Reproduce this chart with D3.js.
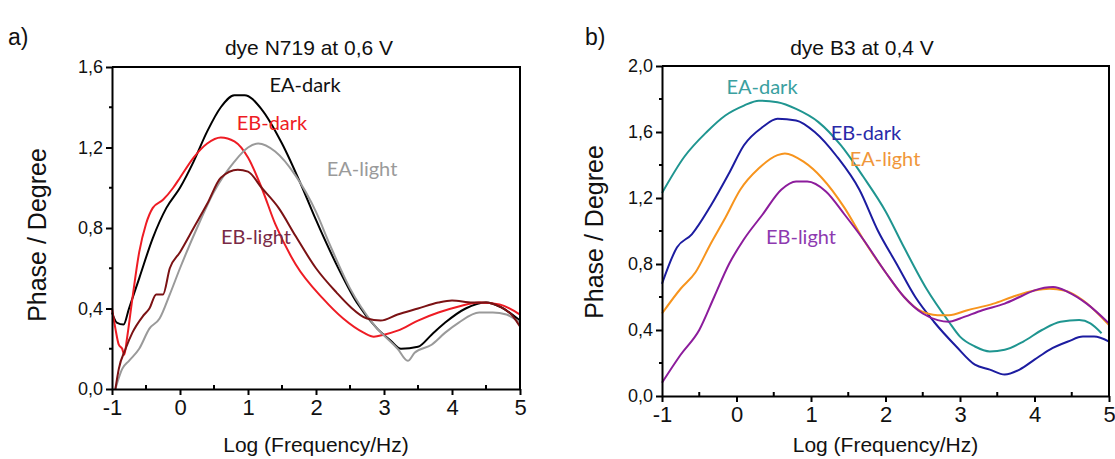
<!DOCTYPE html>
<html><head><meta charset="utf-8">
<script src="https://cdn.jsdelivr.net/npm/d3@7"></script>
<style>body{margin:0;background:#fff}svg{display:block}</style>
</head><body>
<svg id="chart" width="1115" height="459"></svg>
<script>
// ---------- DATA ----------
const xTicks = [-1, 0, 1, 2, 3, 4, 5];
const xTitle = "Log (Frequency/Hz)";
const yTitle = "Phase / Degree";

// Panel a) dye N719 at 0,6 V
const aTitle = "dye N719 at 0,6 V";
const aYTicks = [0, 0.4, 0.8, 1.2, 1.6];
const aEAdark = [[-1,0.38],[-0.93,0.33],[-0.83,0.32],[-0.75,0.4],[-0.6,0.55],[-0.4,0.75],[-0.2,0.9],[0,1.0],[0.2,1.13],[0.4,1.28],[0.6,1.4],[0.8,1.46],[0.95,1.46],[1.2,1.39],[1.5,1.22],[1.8,1.0],[2.0,0.84],[2.3,0.62],[2.6,0.43],[2.9,0.3],[3.1,0.24],[3.25,0.2],[3.5,0.21],[3.7,0.27],[3.9,0.33],[4.2,0.4],[4.5,0.43],[4.7,0.41],[5.0,0.34]];
const aEBdark = [[-1,0.4],[-0.95,0.3],[-0.9,0.22],[-0.85,0.2],[-0.82,0.17],[-0.78,0.25],[-0.7,0.45],[-0.6,0.68],[-0.5,0.82],[-0.4,0.9],[-0.25,0.94],[-0.1,1.0],[0,1.05],[0.2,1.15],[0.4,1.22],[0.6,1.25],[0.8,1.23],[1.0,1.15],[1.2,1.0],[1.4,0.82],[1.7,0.62],[2.1,0.45],[2.4,0.35],[2.7,0.28],[2.85,0.26],[3.0,0.27],[3.2,0.29],[3.5,0.34],[3.8,0.38],[4.1,0.41],[4.4,0.43],[4.7,0.42],[5.0,0.37]];
const aEAlight = [[-0.95,0.0],[-0.85,0.1],[-0.75,0.14],[-0.6,0.2],[-0.45,0.3],[-0.3,0.35],[-0.15,0.47],[0,0.6],[0.25,0.8],[0.5,0.98],[0.8,1.13],[1.0,1.2],[1.15,1.22],[1.4,1.18],[1.7,1.06],[2.0,0.88],[2.2,0.72],[2.5,0.5],[2.85,0.32],[3.2,0.2],[3.35,0.14],[3.45,0.18],[3.7,0.22],[3.9,0.28],[4.1,0.33],[4.4,0.38],[4.6,0.38],[4.8,0.37],[5.0,0.33]];
const aEBlight = [[-0.95,0.0],[-0.9,0.1],[-0.8,0.2],[-0.7,0.28],[-0.55,0.36],[-0.45,0.4],[-0.35,0.47],[-0.25,0.47],[-0.15,0.6],[0,0.68],[0.2,0.8],[0.4,0.92],[0.6,1.05],[0.85,1.09],[1.0,1.08],[1.2,1.0],[1.45,0.9],[1.7,0.76],[2.0,0.6],[2.3,0.48],[2.5,0.41],[2.75,0.35],[2.95,0.34],[3.2,0.37],[3.5,0.4],[3.8,0.43],[4.0,0.44],[4.3,0.43],[4.5,0.43],[4.7,0.41],[4.9,0.36],[5.0,0.31]];

// Panel b) dye B3 at 0,4 V
const bTitle = "dye B3 at 0,4 V";
const bYTicks = [0, 0.4, 0.8, 1.2, 1.6, 2.0];
const bEAdark = [[-1,1.23],[-0.7,1.45],[-0.4,1.6],[-0.15,1.7],[0.1,1.76],[0.3,1.79],[0.55,1.78],[0.8,1.74],[1.1,1.66],[1.4,1.52],[1.7,1.33],[2.0,1.12],[2.25,0.9],[2.55,0.65],[2.85,0.45],[3.0,0.36],[3.2,0.3],[3.4,0.27],[3.6,0.28],[3.85,0.33],[4.1,0.4],[4.35,0.45],[4.6,0.46],[4.75,0.44],[4.9,0.38]];
const bEBdark = [[-1,0.68],[-0.8,0.9],[-0.6,0.98],[-0.35,1.15],[-0.1,1.35],[0.1,1.52],[0.35,1.63],[0.55,1.68],[0.8,1.67],[1.05,1.6],[1.35,1.45],[1.65,1.25],[1.9,1.0],[2.15,0.8],[2.4,0.6],[2.65,0.45],[2.95,0.3],[3.2,0.19],[3.4,0.16],[3.6,0.13],[3.8,0.16],[4.0,0.22],[4.2,0.28],[4.45,0.33],[4.65,0.36],[4.8,0.36],[5.0,0.33]];
const bEAlight = [[-1,0.5],[-0.75,0.65],[-0.55,0.75],[-0.35,0.92],[-0.15,1.08],[0.05,1.25],[0.3,1.38],[0.55,1.46],[0.65,1.47],[0.9,1.42],[1.15,1.32],[1.45,1.14],[1.7,0.95],[2.0,0.75],[2.25,0.6],[2.45,0.52],[2.7,0.49],[2.85,0.49],[3.1,0.52],[3.45,0.56],[3.7,0.6],[4.0,0.64],[4.2,0.65],[4.4,0.64],[4.65,0.58],[4.85,0.5],[5.0,0.43]];
const bEBlight = [[-1,0.08],[-0.75,0.25],[-0.5,0.4],[-0.3,0.6],[-0.1,0.8],[0.1,0.95],[0.35,1.1],[0.6,1.25],[0.8,1.3],[0.95,1.3],[1.2,1.24],[1.45,1.1],[1.7,0.95],[2.0,0.75],[2.25,0.6],[2.5,0.5],[2.7,0.46],[2.85,0.45],[3.0,0.47],[3.3,0.52],[3.6,0.56],[3.8,0.6],[4.0,0.64],[4.25,0.66],[4.45,0.63],[4.7,0.56],[5.0,0.44]];

const labels = ["EA-dark", "EB-dark", "EA-light", "EB-light"];

// ---------- DRAW ----------
const svg = d3.select("#chart");
const fmt = v => d3.format(".1f")(v).replace(".", ",");
const xfmt = v => String(v);
const ff = "Liberation Sans, Arial, sans-serif";

function panel(o) {
  const g = svg.append("g");
  const x = d3.scaleLinear().domain([-1, 5]).range([o.x0, o.x1]);
  const y = d3.scaleLinear().domain([0, o.yMax]).range([o.y1, o.y0]);

  const line = d3.line().x(d => x(d[0])).y(d => y(d[1])).curve(d3.curveMonotoneX);
  o.series.forEach(s => {
    g.append("path").attr("d", line(s.data)).attr("fill", "none")
      .attr("stroke", s.color).attr("stroke-width", 2);
  });

  g.append("path").attr("fill", "none").attr("stroke", "#000").attr("stroke-width", 2)
    .attr("d", `M${o.x0},${o.y0}H${o.x1}V${o.y1}`);

  const xa = g.append("g").attr("transform", `translate(0,${o.y1})`)
    .call(d3.axisBottom(x).tickValues(xTicks).tickFormat(xfmt).tickSizeOuter(0).tickSizeInner(6).tickPadding(4));
  xa.select(".domain").attr("stroke-width", 2);
  xa.selectAll(".tick line").attr("stroke-width", 2);
  xa.selectAll("text").attr("font-family", ff).attr("font-size", 22).attr("fill", "#111");
  const xMinor = d3.range(-0.5, 5, 1);
  g.append("g").selectAll("line").data(xMinor).join("line")
    .attr("x1", d => x(d)).attr("x2", d => x(d)).attr("y1", o.y1).attr("y2", o.y1 - 4)
    .attr("stroke", "#000").attr("stroke-width", 2);

  const ya = g.append("g").attr("transform", `translate(${o.x0},0)`)
    .call(d3.axisLeft(y).tickValues(o.yTicks).tickFormat(fmt).tickSizeOuter(0).tickSizeInner(6).tickPadding(3));
  ya.select(".domain").attr("stroke-width", 2);
  ya.selectAll(".tick line").attr("stroke-width", 2);
  ya.selectAll("text").attr("font-family", ff).attr("font-size", 18).attr("fill", "#111");
  const yMinor = o.yTicks.slice(0, -1).map(v => v + 0.2);
  g.append("g").selectAll("line").data(yMinor).join("line")
    .attr("x1", o.x0).attr("x2", o.x0 - 3).attr("y1", d => y(d)).attr("y2", d => y(d))
    .attr("stroke", "#000").attr("stroke-width", 2);

  g.append("text").attr("x", o.titleX).attr("y", 55).attr("text-anchor", "middle")
    .attr("font-family", ff).attr("font-size", 21).attr("fill", "#111").text(o.title);
  g.append("text").attr("x", o.tagX).attr("y", 45).attr("font-family", ff).attr("font-size", 23).attr("fill", "#111").text(o.tag);
  g.append("text").attr("x", (o.x0 + o.x1) / 2).attr("y", 452).attr("text-anchor", "middle")
    .attr("font-family", ff).attr("font-size", 21).attr("fill", "#111").text(xTitle);
  g.append("text").attr("transform", `translate(${o.yTitleX},${o.yTitleY}) rotate(-90)`)
    .attr("text-anchor", "middle").attr("font-family", ff).attr("font-size", 25).attr("fill", "#111").text(yTitle);

  o.series.forEach((s, i) => {
    g.append("text").attr("x", s.lx).attr("y", s.ly).attr("text-anchor", "middle")
      .attr("font-family", "Lato, Open Sans, sans-serif").attr("font-size", 20).attr("fill", s.lcolor).text(labels[i]);
  });
}

panel({
  x0: 112, x1: 520, y0: 67, y1: 389, yMax: 1.6, yTicks: aYTicks, title: aTitle, titleX: 309,
  tag: "a)", tagX: 8, yTitleX: 46, yTitleY: 235,
  series: [
    {data: aEAdark, color: "#000000", lcolor: "#111111", lx: 305, ly: 92},
    {data: aEBdark, color: "#ee1c24", lcolor: "#ee1c24", lx: 272, ly: 130},
    {data: aEAlight, color: "#9a9a9a", lcolor: "#9a9a9a", lx: 362, ly: 176},
    {data: aEBlight, color: "#7b1214", lcolor: "#7a2a46", lx: 256, ly: 244}
  ]
});

panel({
  x0: 662, x1: 1109, y0: 66, y1: 396, yMax: 2.0, yTicks: bYTicks, title: bTitle, titleX: 862,
  tag: "b)", tagX: 585, yTitleX: 603, yTitleY: 232,
  series: [
    {data: bEAdark, color: "#1f9590", lcolor: "#3aa0a0", lx: 762, ly: 94},
    {data: bEBdark, color: "#1c1ca0", lcolor: "#2a2aa8", lx: 866, ly: 140},
    {data: bEAlight, color: "#f7941d", lcolor: "#f0963a", lx: 885, ly: 166},
    {data: bEBlight, color: "#8c1c9c", lcolor: "#8e3ab0", lx: 801, ly: 244}
  ]
});
</script>
</body></html>
